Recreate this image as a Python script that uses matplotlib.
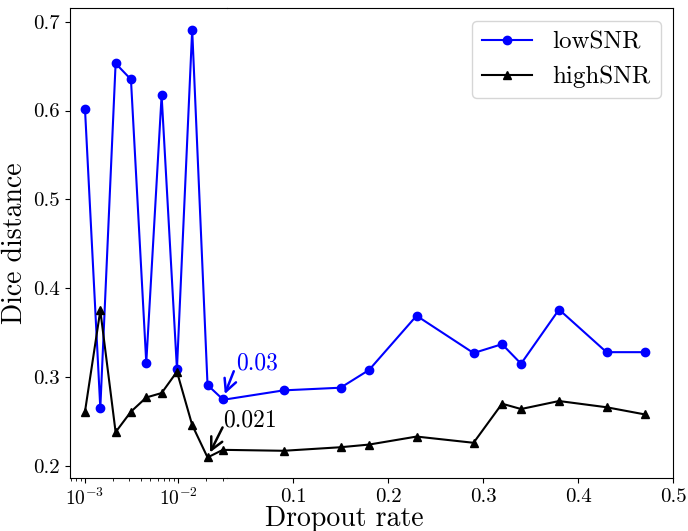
import numpy as np
import matplotlib
matplotlib.use("Agg")
import matplotlib.pyplot as plt
from matplotlib.ticker import FixedLocator, LogLocator, NullFormatter

plt.rcParams['font.family'] = 'serif'
plt.rcParams['font.serif'] = ['cmr10']
plt.rcParams['mathtext.fontset'] = 'cm'
plt.rcParams['axes.unicode_minus'] = False
plt.rcParams['axes.formatter.use_mathtext'] = True

# dropout rates : 10 log-spaced values, then linear ones
rates = [0.001, 0.00146, 0.00213, 0.00311, 0.00454, 0.00663, 0.00968,
         0.0141, 0.0206, 0.03,
         0.09, 0.15, 0.18, 0.23, 0.29, 0.32, 0.34, 0.38, 0.43, 0.47]
n_log = 10

low_snr = [0.602, 0.265, 0.653, 0.635, 0.316, 0.617, 0.309, 0.691, 0.291, 0.275,
           0.285, 0.288, 0.308, 0.369, 0.327, 0.337, 0.315, 0.376, 0.328, 0.328]
high_snr = [0.261, 0.375, 0.238, 0.261, 0.277, 0.282, 0.306, 0.246, 0.2095, 0.218,
            0.217, 0.221, 0.224, 0.233, 0.226, 0.270, 0.264, 0.273, 0.266, 0.258]

best_low = 9    # index of the annotated points
best_high = 8

fig = plt.figure(figsize=(6.88, 5.31), dpi=100)
bot, h = 0.0992, 0.8851
ax_log = fig.add_axes([0.1017, bot, 0.2276, h])
ax_lin = fig.add_axes([0.3294, bot, 0.6488, h], sharey=ax_log)
ax_log.set_facecolor('none')
ax_lin.set_facecolor('none')

# partie log
l1, = ax_log.plot(rates, low_snr, color='blue', marker='o', ms=6, lw=1.5, label='lowSNR')
l2, = ax_log.plot(rates, high_snr, color='black', marker='^', ms=6, lw=1.5, label='highSNR')
ax_log.set_xscale('log')
ax_log.set_xlim(6.905e-4, 0.03294)
ax_log.xaxis.set_major_locator(FixedLocator([1e-3, 1e-2]))
ax_log.set_xticklabels([r'$10^{-3}$', r'$10^{-2}$'])
ax_log.xaxis.set_minor_locator(LogLocator(base=10, subs=np.arange(2, 10)))
ax_log.xaxis.set_minor_formatter(NullFormatter())
ax_log.spines['right'].set_visible(False)

# partie lineaire
x_lin = rates[n_log - 1:]
ax_lin.plot(x_lin, low_snr[n_log - 1:], color='blue', marker='o', ms=6, lw=1.5,
            markevery=slice(1, None))
ax_lin.plot(x_lin, high_snr[n_log - 1:], color='black', marker='^', ms=6, lw=1.5,
            markevery=slice(1, None))
ax_lin.set_xlim(0.03, 0.5)
ax_lin.set_xticks([0.1, 0.2, 0.3, 0.4, 0.5])
ax_lin.set_xticklabels(['0.1', '0.2', '0.3', '0.4', '0.5'])
ax_lin.spines['left'].set_visible(False)
ax_lin.tick_params(axis='y', left=False, labelleft=False)

ax_log.set_ylim(0.186, 0.715)
ax_log.set_yticks([0.2, 0.3, 0.4, 0.5, 0.6, 0.7])
ax_log.set_yticklabels(['0.2', '0.3', '0.4', '0.5', '0.6', '0.7'])

ax_lin.tick_params(labelsize=15)
ax_log.tick_params(axis='y', labelsize=15)
ax_log.tick_params(axis='x', labelsize=14)

# annotations des minima
arrow_kw = dict(arrowstyle='->', lw=1.8, mutation_scale=22, shrinkA=0, shrinkB=4)
p1 = (rates[best_low], low_snr[best_low])
ax_log.annotate('', xy=p1, xytext=(11, 28), textcoords='offset pixels',
                arrowprops=dict(color='blue', **arrow_kw))
ax_log.annotate('%.2g' % rates[best_low], xy=p1, xytext=(13, 30), textcoords='offset pixels',
                color='blue', fontsize=17, ha='left', va='baseline')
p2 = (rates[best_high], high_snr[best_high])
ax_log.annotate('', xy=p2, xytext=(15, 30), textcoords='offset pixels',
                arrowprops=dict(color='black', **arrow_kw))
ax_log.annotate('%.2g' % rates[best_high], xy=p2, xytext=(16, 31), textcoords='offset pixels',
                color='black', fontsize=17, ha='left', va='baseline')

ax_lin.legend(handles=[l1, l2], loc='upper right', fontsize=18)

ax_log.set_ylabel('Dice distance', fontsize=20)
fig.text(0.5, 0.0094, 'Dropout rate', fontsize=20, ha='center', va='baseline')

plt.savefig('out.png', dpi=100)
